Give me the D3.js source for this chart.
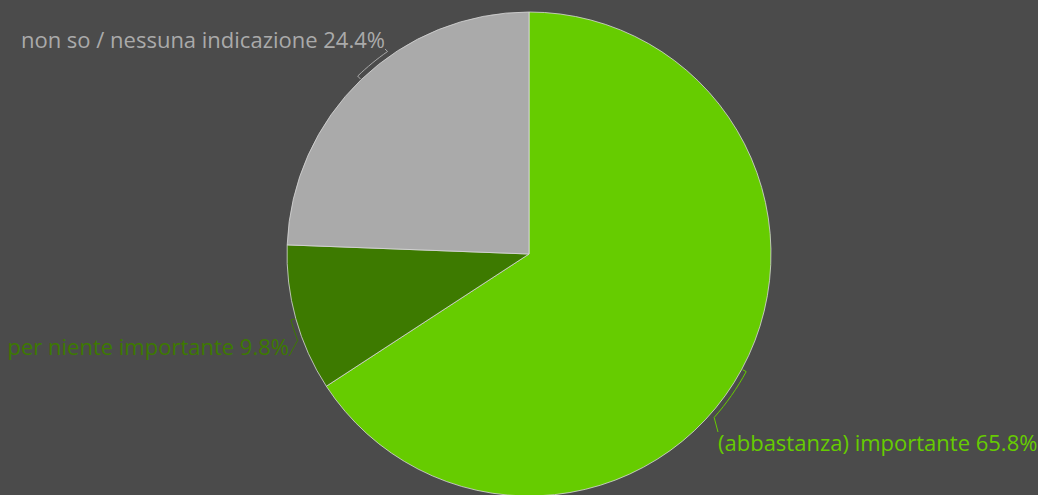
<!DOCTYPE html>
<html>
<head>
<meta charset="utf-8">
<script src="https://cdnjs.cloudflare.com/ajax/libs/d3/7.8.5/d3.min.js"></script>
<style>
  html, body { margin: 0; padding: 0; background: #4b4b4b; overflow: hidden; }
  svg { display: block; }
  text { font-family: "Open Sans", "Noto Sans", sans-serif; }
</style>
</head>
<body>
<div id="chart"></div>
<script>
var labels = ["(abbastanza) importante", "per niente importante", "non so / nessuna indicazione"],
    values = [65.8, 9.8, 24.4],
    colors = ["#66cc00", "#3d7a00", "#aaaaaa"];

var width = 1038, height = 495,
    cx = 529, cy = 254, radius = 242;

var svg = d3.select("#chart").append("svg")
    .attr("width", width)
    .attr("height", height);

var g = svg.append("g")
    .attr("transform", "translate(" + cx + "," + cy + ")");

var pie = d3.pie().sort(null).value(function(d){ return d; });
var arcs = pie(values);

var arc = d3.arc().innerRadius(0).outerRadius(radius);

g.selectAll("path.slice")
    .data(arcs)
    .enter().append("path")
    .attr("class", "slice")
    .attr("d", arc)
    .attr("fill", function(d, i){ return colors[i]; })
    .attr("stroke", "#d8d8d8")
    .attr("stroke-opacity", 0.8)
    .attr("stroke-width", 1);

// leader settings per slice: how far the line runs along the rim, and where the label sits
var leaderSpan = [13, -5, 9],
    labelPos = [[718, 443, "start"], [289, 347, "end"], [385, 40, "end"]];

function polar(a, r){
    return [Math.sin(a) * r, -Math.cos(a) * r];
}

arcs.forEach(function(d, i){
    var mid = (d.startAngle + d.endAngle) / 2,
        end = mid + leaderSpan[i] * Math.PI / 180,
        pts = [polar(mid, radius + 1), polar(mid, radius + 5)],
        steps = 8;
    for(var k = 1; k <= steps; k++){
        pts.push(polar(mid + (end - mid) * k / steps, radius + 5));
    }
    var lp = labelPos[i];
    pts.push([lp[0] - cx, lp[1] - cy + (i == 0 ? -11 : 9)]);

    g.append("path")
        .attr("d", d3.line()(pts))
        .attr("fill", "none")
        .attr("stroke", colors[i])
        .attr("stroke-width", 1);

    svg.append("text")
        .attr("x", lp[0])
        .attr("y", lp[1])
        .attr("dy", "0.35em")
        .attr("text-anchor", lp[2])
        .attr("fill", colors[i])
        .style("font-size", "22px")
        .text(labels[i] + " " + values[i].toFixed(1) + "%");
});
</script>
</body>
</html>
